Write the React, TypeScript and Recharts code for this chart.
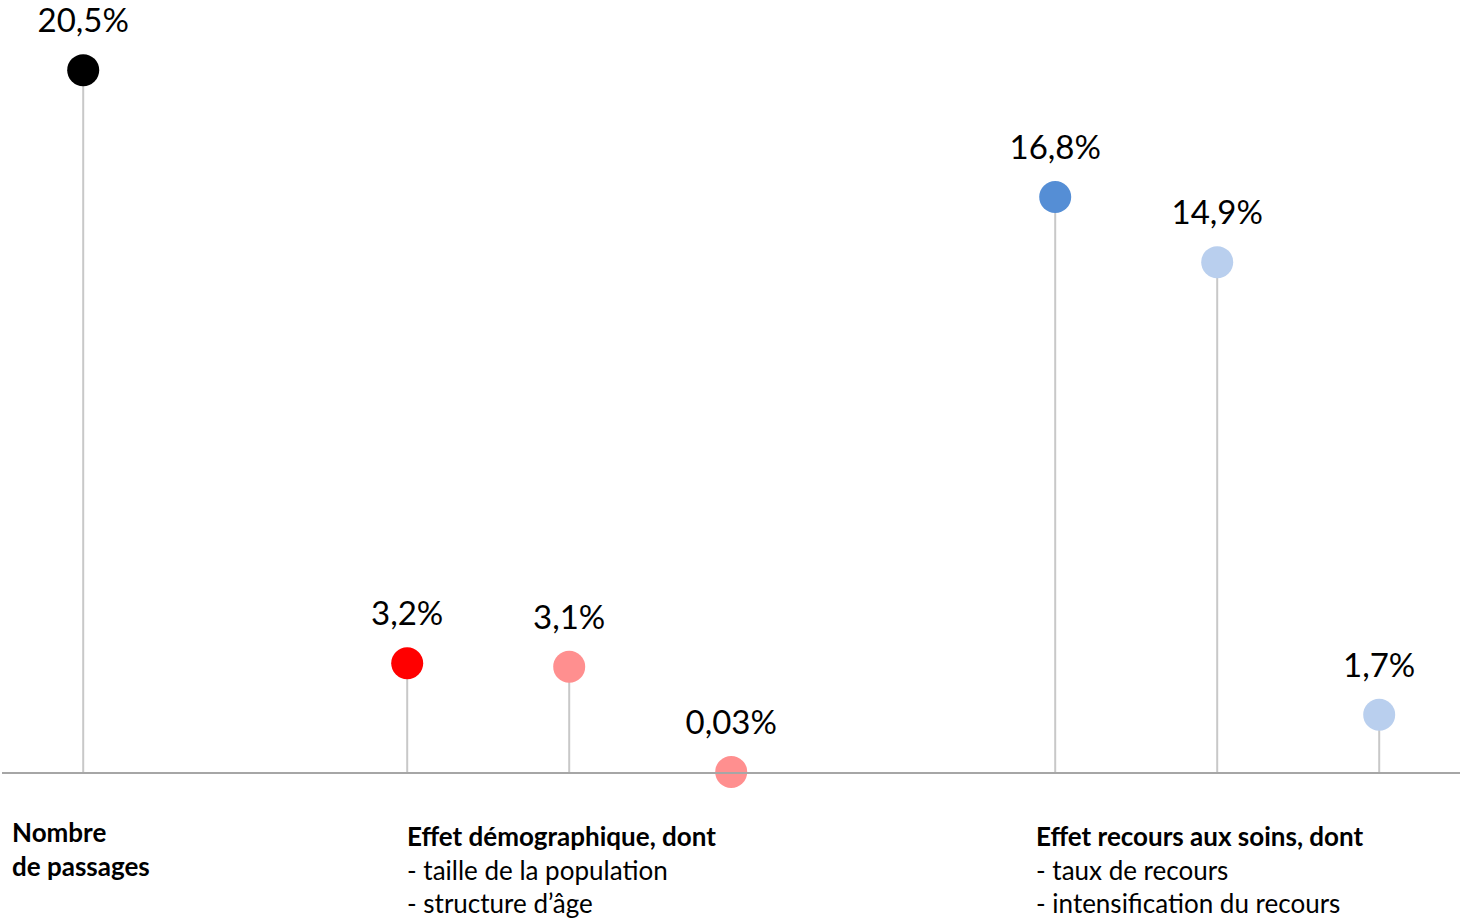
import { ComposedChart, Bar, XAxis, YAxis, LabelList } from "recharts";

const categories = ["passages", "gap1", "demo", "taille", "age", "gap2", "recours", "taux", "intensif"];
const values: (number | null)[] = [20.5, null, 3.2, 3.1, 0.03, null, 16.8, 14.9, 1.7];
const valueLabels = ["20,5%", "", "3,2%", "3,1%", "0,03%", "", "16,8%", "14,9%", "1,7%"];
const dotColors = ["#000000", "", "#ff0000", "#ff8f8f", "#ff8f8f", "", "#558ed5", "#b9cfee", "#b9cfee"];
const headings: string[][] = [["Nombre", "de passages"], [], ["Effet démographique, dont"], [], [], [], ["Effet recours aux soins, dont"], [], []];
const subItems: string[][] = [[], [], ["- taille de la population", "- structure d’âge"], [], [], [], ["- taux de recours", "- intensification du recours"], [], []];

const data = categories.map((c, i) => ({ cat: c, value: values[i], label: valueLabels[i], color: dotColors[i] }));

const FONT = "Lato, 'Noto Sans', sans-serif";

// where each label block starts relative to its category centre
const blockShift: Record<number, { dx: number; dy: number }> = {
  0: { dx: -71, dy: 69 },
  2: { dx: 0, dy: 73 },
  6: { dx: -19, dy: 73 },
};

function Lollipop(props: any) {
  const { x, y, width, height, payload } = props;
  if (payload.value == null) return null;
  const cx = x + width / 2;
  return (
    <g>
      <line x1={cx} x2={cx} y1={y} y2={y + height} stroke="#c8c8c8" strokeWidth={2} />
      <circle cx={cx} cy={y} r={16} fill={payload.color} />
    </g>
  );
}

function ValueLabel(props: any) {
  const { x, y, width, value } = props;
  if (!value) return null;
  return (
    <text x={x + width / 2} y={y - 38} textAnchor="middle" fontFamily={FONT} fontSize={33} fill="#000">
      {value}
    </text>
  );
}

function CategoryTick(props: any) {
  const { x, y, payload } = props;
  const i = payload.index;
  const shift = blockShift[i];
  if (!shift) return null;
  const lines = [
    ...headings[i].map((t) => ({ t, bold: true })),
    ...subItems[i].map((t) => ({ t, bold: false })),
  ];
  return (
    <g>
      {lines.map((l, k) => (
        <text
          key={k}
          x={x + shift.dx}
          y={y + shift.dy + k * 33.5}
          textAnchor="start"
          fontFamily={FONT}
          fontSize={26}
          fontWeight={l.bold ? 700 : 400}
          fill="#000"
        >
          {l.t}
        </text>
      ))}
    </g>
  );
}

export default function App() {
  return (
    <div style={{ position: "absolute", left: 0, top: 0, width: 1460, height: 919, background: "#fff" }}>
      <ComposedChart width={1460} height={919} data={data} margin={{ top: 53, right: 0, left: 2, bottom: 0 }}>
        <YAxis hide domain={[0, 21]} />
        <XAxis
          dataKey="cat"
          height={146}
          interval={0}
          tickLine={false}
          tickSize={0}
          tickMargin={0}
          axisLine={{ stroke: "#a6a6a6", strokeWidth: 2 }}
          tick={<CategoryTick />}
        />
        <Bar dataKey="value" shape={<Lollipop />} isAnimationActive={false}>
          <LabelList dataKey="label" content={<ValueLabel />} />
        </Bar>
      </ComposedChart>
    </div>
  );
}
